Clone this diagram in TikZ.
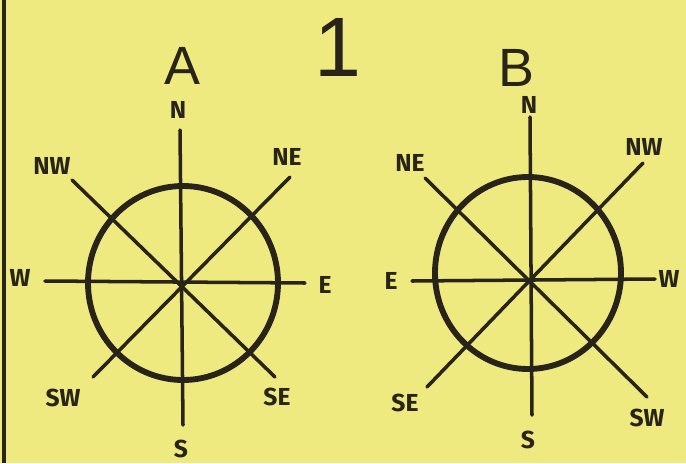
\documentclass[tikz,border=0pt]{standalone}
\usepackage{fontspec}
\setmainfont{Fira Sans}
\newfontfamily\handfont{Liberation Sans}
\usepackage{tikz}
\usetikzlibrary{positioning}
\definecolor{paper}{RGB}{238,234,128}
\definecolor{ink}{RGB}{40,36,26}

\begin{document}
\begin{tikzpicture}[x=0.03cm, y=-0.03cm, line cap=round,
    spoke/.style={draw=ink, line width=3pt},
    rim/.style={draw=ink, line width=5pt},
    pt/.style={font=\fontsize{21}{21}\selectfont\bfseries, text=ink, inner sep=0pt},
    heading/.style={font=\handfont\fontsize{46}{46}\selectfont, text=ink,
      inner sep=0pt, text depth=0pt}]
  \fill[paper] (0,0) rectangle (686,463);
  \useasboundingbox (0,0) rectangle (686,463);
  \draw[ink, line width=2.6pt, line cap=butt] (4,0) -- (4,463);

  % titles
  \node[heading] (ttlA) at (182,66) {A};
  \node[heading, font=\handfont\fontsize{72}{72}\selectfont] (num) at (338,47) {1};
  \node[heading] (ttlB) at (516,68) {B};

  % compass A
  \draw[rim] (183,283) ellipse (95 and 97);
  \coordinate (A-n) at (180,130);  \coordinate (A-s) at (183,425);
  \coordinate (A-w) at (45,281);   \coordinate (A-e) at (305,283);
  \coordinate (A-nw) at (72,180);  \coordinate (A-se) at (275,377);
  \coordinate (A-ne) at (290,177); \coordinate (A-sw) at (93,377);
  \draw[spoke] (A-n) -- (A-s);
  \draw[spoke] (A-w) -- (A-e);
  \draw[spoke] (A-nw) -- (A-se);
  \draw[spoke] (A-ne) -- (A-sw);
  \node[pt] (lA-n) at (178,110) {N};
  \node[pt] (lA-s) at (181,449) {S};
  \node[pt] (lA-w) at (20,278) {W};
  \node[pt] (lA-e) at (325,285) {E};
  \node[pt] (lA-nw) at (52,166) {NW};
  \node[pt] (lA-ne) at (287,157) {NE};
  \node[pt] (lA-sw) at (63,398) {SW};
  \node[pt] (lA-se) at (277,397) {SE};

  % compass B
  \draw[rim] (528,273) ellipse (93 and 96);
  \coordinate (B-n) at (530,117);  \coordinate (B-s) at (532,415);
  \coordinate (B-e) at (412,281);  \coordinate (B-w) at (655,279);
  \coordinate (B-ne) at (425,178); \coordinate (B-sw) at (647,397);
  \coordinate (B-nw) at (643,163); \coordinate (B-se) at (427,387);
  \draw[spoke] (B-n) -- (B-s);
  \draw[spoke] (B-e) -- (B-w);
  \draw[spoke] (B-ne) -- (B-sw);
  \draw[spoke] (B-nw) -- (B-se);
  \node[pt] (lB-n) at (529,105) {N};
  \node[pt] (lB-s) at (528,440) {S};
  \node[pt] (lB-e) at (391,281) {E};
  \node[pt] (lB-w) at (669,279) {W};
  \node[pt] (lB-ne) at (410,163) {NE};
  \node[pt] (lB-nw) at (644,147) {NW};
  \node[pt] (lB-se) at (405,403) {SE};
  \node[pt] (lB-sw) at (647,418) {SW};
\end{tikzpicture}
\end{document}
